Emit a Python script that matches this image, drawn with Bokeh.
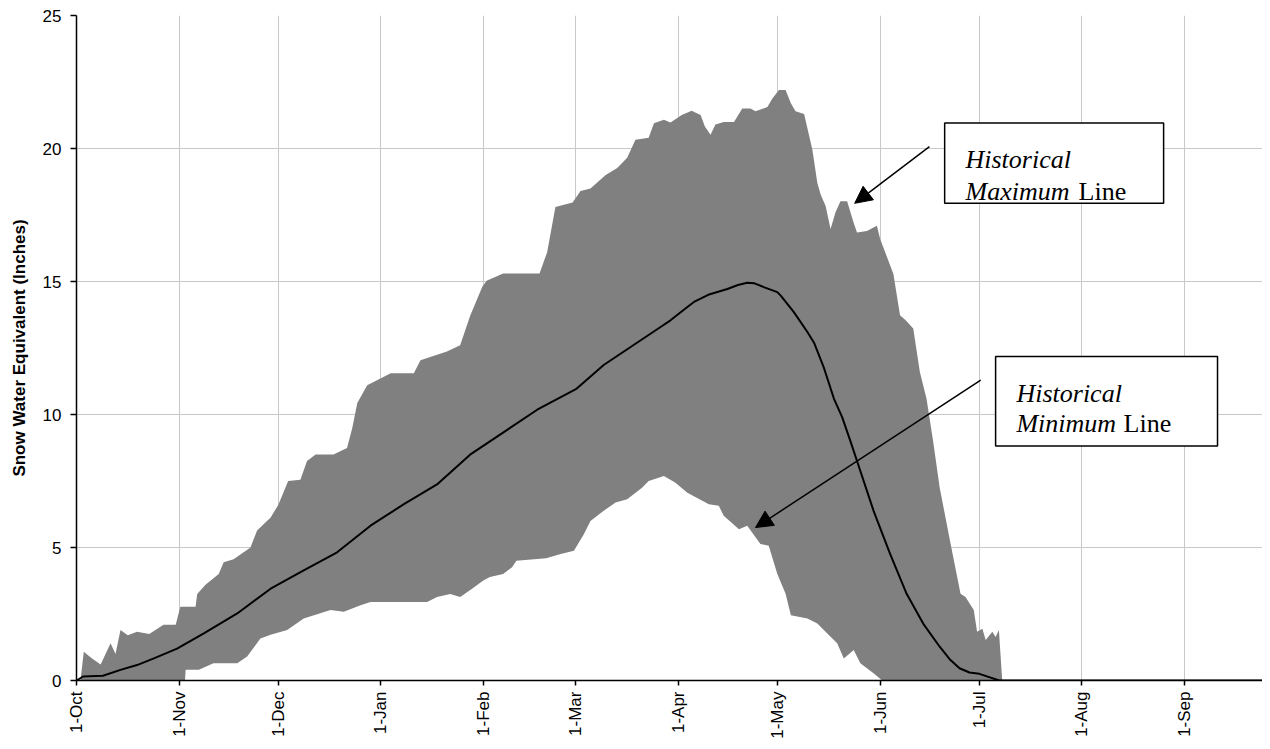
import math
from bokeh.plotting import figure
from bokeh.models import Range1d, FixedTicker, BoxAnnotation, Label, Arrow, NormalHead
from bokeh.embed import file_html
from bokeh.resources import INLINE

# ---- tick labels (days since 1-Oct) ----
month_days = [0, 31, 61, 92, 123, 151, 182, 212, 243, 273, 304, 335]
month_labels = ["1-Oct", "1-Nov", "1-Dec", "1-Jan", "1-Feb", "1-Mar",
                "1-Apr", "1-May", "1-Jun", "1-Jul", "1-Aug", "1-Sep"]

# ---- historical maximum (days since 1-Oct, inches) ----
max_days = [0, 1.2, 2.2, 4.5, 7.3, 10.3, 11.8, 13.3, 15.5, 18.3, 22, 26.3, 30, 31.4, 36, 36.5,
            39, 43, 44.5, 47.5, 52.6, 54.6, 58.7, 61, 64, 67.7, 69.7, 72.3, 77.7, 81.8, 83.4,
            84.9, 87.9, 91, 95, 102, 104, 112, 116, 119, 122.7, 124, 129, 140, 142.3, 144.8,
            150, 152.4, 155.4, 160, 163.5, 166.5, 169, 173, 174.6, 177.6, 179.6, 183, 186,
            188.7, 190, 191.7, 193.2, 195.7, 198.8, 201.3, 203.8, 205.3, 208.9, 210.4, 212.4,
            214.4, 216, 217.4, 220, 222.5, 224, 225, 226.5, 228, 229.5, 231, 233, 235, 236,
            239, 242, 243, 247, 249, 250.7, 253, 255, 257, 259, 261, 264.3, 267.3, 268.8,
            271.3, 272.3, 273.9, 274.9, 276.9, 277.9, 278.9, 279.9, 365]
max_vals = [0, 0, 1.08, 0.85, 0.6, 1.4, 1.0, 1.9, 1.7, 1.83, 1.75, 2.1, 2.1, 2.77, 2.77, 3.25,
            3.6, 4.0, 4.45, 4.56, 5.0, 5.64, 6.13, 6.6, 7.5, 7.55, 8.25, 8.5, 8.5, 8.74, 9.5,
            10.43, 11.1, 11.3, 11.55, 11.55, 12.04, 12.37, 12.6, 13.7, 14.8, 15.03, 15.3, 15.3,
            16.1, 17.8, 17.97, 18.4, 18.5, 19.0, 19.27, 19.65, 20.33, 20.4, 20.95, 21.08, 20.98,
            21.26, 21.42, 21.26, 20.83, 20.52, 20.9, 21.0, 21.0, 21.5, 21.5, 21.4, 21.56, 21.88,
            22.2, 22.2, 21.7, 21.4, 21.3, 19.95, 18.7, 18.27, 17.84, 16.97, 17.6, 18.02, 18.02,
            17.2, 16.84, 16.9, 17.1, 16.6, 15.28, 13.73, 13.54, 13.23, 11.6, 10.6, 9.0, 7.25,
            5.13, 3.26, 3.14, 2.65, 1.83, 1.95, 1.52, 1.83, 1.64, 1.9, 0, 0]

# ---- historical minimum ----
min_days = [0, 32.8, 33, 37, 41.4, 48.6, 51.6, 55.6, 58.7, 63.7, 68.7, 76.8, 80.8, 85.9, 88.9,
            106, 109, 113, 116, 119.6, 123, 125, 129, 131.7, 133, 142, 146.4, 150.4, 153.4,
            155.4, 159.4, 163, 166.5, 171, 173, 177.6, 181, 184.7, 191.2, 194.2, 195.7, 200.3,
            202.8, 206.8, 209.3, 211.9, 214.4, 216, 221, 224, 227, 230, 232, 235, 237, 241,
            243.6, 365]
min_vals = [0, 0, 0.4, 0.4, 0.65, 0.65, 0.9, 1.58, 1.72, 1.9, 2.33, 2.65, 2.58, 2.83, 2.95,
            2.95, 3.14, 3.25, 3.14, 3.45, 3.76, 3.89, 4.0, 4.26, 4.5, 4.6, 4.76, 4.88, 5.5,
            6.0, 6.38, 6.69, 6.81, 7.25, 7.5, 7.69, 7.44, 7.06, 6.63, 6.57, 6.19, 5.69,
            5.82, 5.13, 5.07, 4.0, 3.26, 2.45, 2.33, 2.14, 1.77, 1.4, 0.83, 1.15, 0.65, 0.27,
            0, 0]

# ---- median / average line ----
med_days = [0, 2, 8, 13.3, 18.3, 23.4, 30.4, 38.5, 48.6, 58.7, 68.7, 78.8, 88.9, 99, 109, 119,
            139.3, 151, 159.4, 176.6, 179.6, 184.7, 186.7, 191, 196.8, 200, 202.8, 205, 207.8,
            211.9, 213, 216.9, 221, 223, 226, 229, 231.5, 234, 236, 241, 246, 251, 256, 261,
            264, 267, 270, 273, 279, 365]
med_vals = [0, 0.15, 0.18, 0.4, 0.58, 0.83, 1.2, 1.77, 2.52, 3.45, 4.14, 4.82, 5.82, 6.63, 7.37,
            8.49, 10.18, 10.95, 11.86, 13.29, 13.54, 14.04, 14.23, 14.5, 14.72, 14.87, 14.95,
            14.93, 14.79, 14.6, 14.46, 13.85, 13.1, 12.7, 11.75, 10.6, 9.9, 9.0, 8.25, 6.38,
            4.76, 3.26, 2.14, 1.27, 0.8, 0.46, 0.3, 0.25, 0, 0]

p = figure(width=1262, height=741, output_backend="svg", toolbar_location=None,
           x_range=Range1d(0, 358.6), y_range=Range1d(0, 25),
           min_border_left=76, min_border_right=0, min_border_top=15, min_border_bottom=57)
p.outline_line_color = None
p.background_fill_color = "white"
p.border_fill_color = "white"

p.varea(x=max_days, y1=0, y2=max_vals, fill_color="#808080", fill_alpha=1)
p.varea(x=min_days, y1=0, y2=min_vals, fill_color="white", fill_alpha=1)
p.line(med_days, med_vals, line_color="black", line_width=2)

# axes
p.xaxis.ticker = FixedTicker(ticks=month_days)
p.xaxis.major_label_overrides = {d: l for d, l in zip(month_days, month_labels)}
p.xaxis.major_label_orientation = math.pi / 2
p.yaxis.ticker = FixedTicker(ticks=[0, 5, 10, 15, 20, 25])
for ax in (p.xaxis[0], p.yaxis[0]):
    ax.axis_line_color = "black"
    ax.axis_line_width = 1.5
    ax.major_tick_line_color = "black"
    ax.major_tick_line_width = 1.5
    ax.major_tick_in = 0
    ax.minor_tick_line_color = None
    ax.major_label_text_font = "Liberation Sans"
    ax.major_label_text_font_size = "17px"
    ax.major_label_text_color = "black"
p.xaxis.major_tick_out = 5
p.yaxis.major_tick_out = 6
p.xaxis.major_label_standoff = 6
p.yaxis.major_label_standoff = 9
p.yaxis.axis_label = "Snow Water Equivalent (Inches)"
p.yaxis.axis_label_text_font = "Liberation Sans"
p.yaxis.axis_label_text_font_style = "bold"
p.yaxis.axis_label_text_font_size = "17px"
p.yaxis.axis_label_text_color = "black"
p.yaxis.axis_label_standoff = 11

p.xgrid.ticker = FixedTicker(ticks=month_days)
p.ygrid.ticker = FixedTicker(ticks=[5, 10, 15, 20, 25])
for g in (p.xgrid[0], p.ygrid[0]):
    g.grid_line_color = "#c8c8c8"
    g.grid_line_width = 1

# annotations
box_style = dict(fill_color="white", fill_alpha=1, line_color="black", line_alpha=1,
                 line_width=1.5)
p.add_layout(BoxAnnotation(left=262.5, right=328.7, top=20.96, bottom=17.94, **box_style))
p.add_layout(BoxAnnotation(left=277.9, right=345.0, top=12.18, bottom=8.82, **box_style))

def lab(x, y, t, style):
    p.add_layout(Label(x=x, y=y, text=t, text_font="Liberation Serif", text_font_size="26px",
                       text_font_style=style, text_color="black", text_baseline="alphabetic"))

lab(268.8, 19.58, "Historical", "italic")
lab(268.8, 18.39, "Maximum", "italic")
lab(303.0, 18.39, "Line", "normal")
lab(284.2, 10.80, "Historical", "italic")
lab(284.2, 9.68, "Minimum", "italic")
lab(316.6, 9.68, "Line", "normal")

p.add_layout(Arrow(x_start=257.9, y_start=20.07, x_end=235.3, y_end=17.94, line_width=1.5,
                   line_color="black",
                   end=NormalHead(size=17, fill_color="black", line_color="black")))
p.add_layout(Arrow(x_start=273.4, y_start=11.29, x_end=205.3, y_end=5.75, line_width=1.5,
                   line_color="black",
                   end=NormalHead(size=17, fill_color="black", line_color="black")))

open("out.html", "w").write(file_html(p, INLINE))
